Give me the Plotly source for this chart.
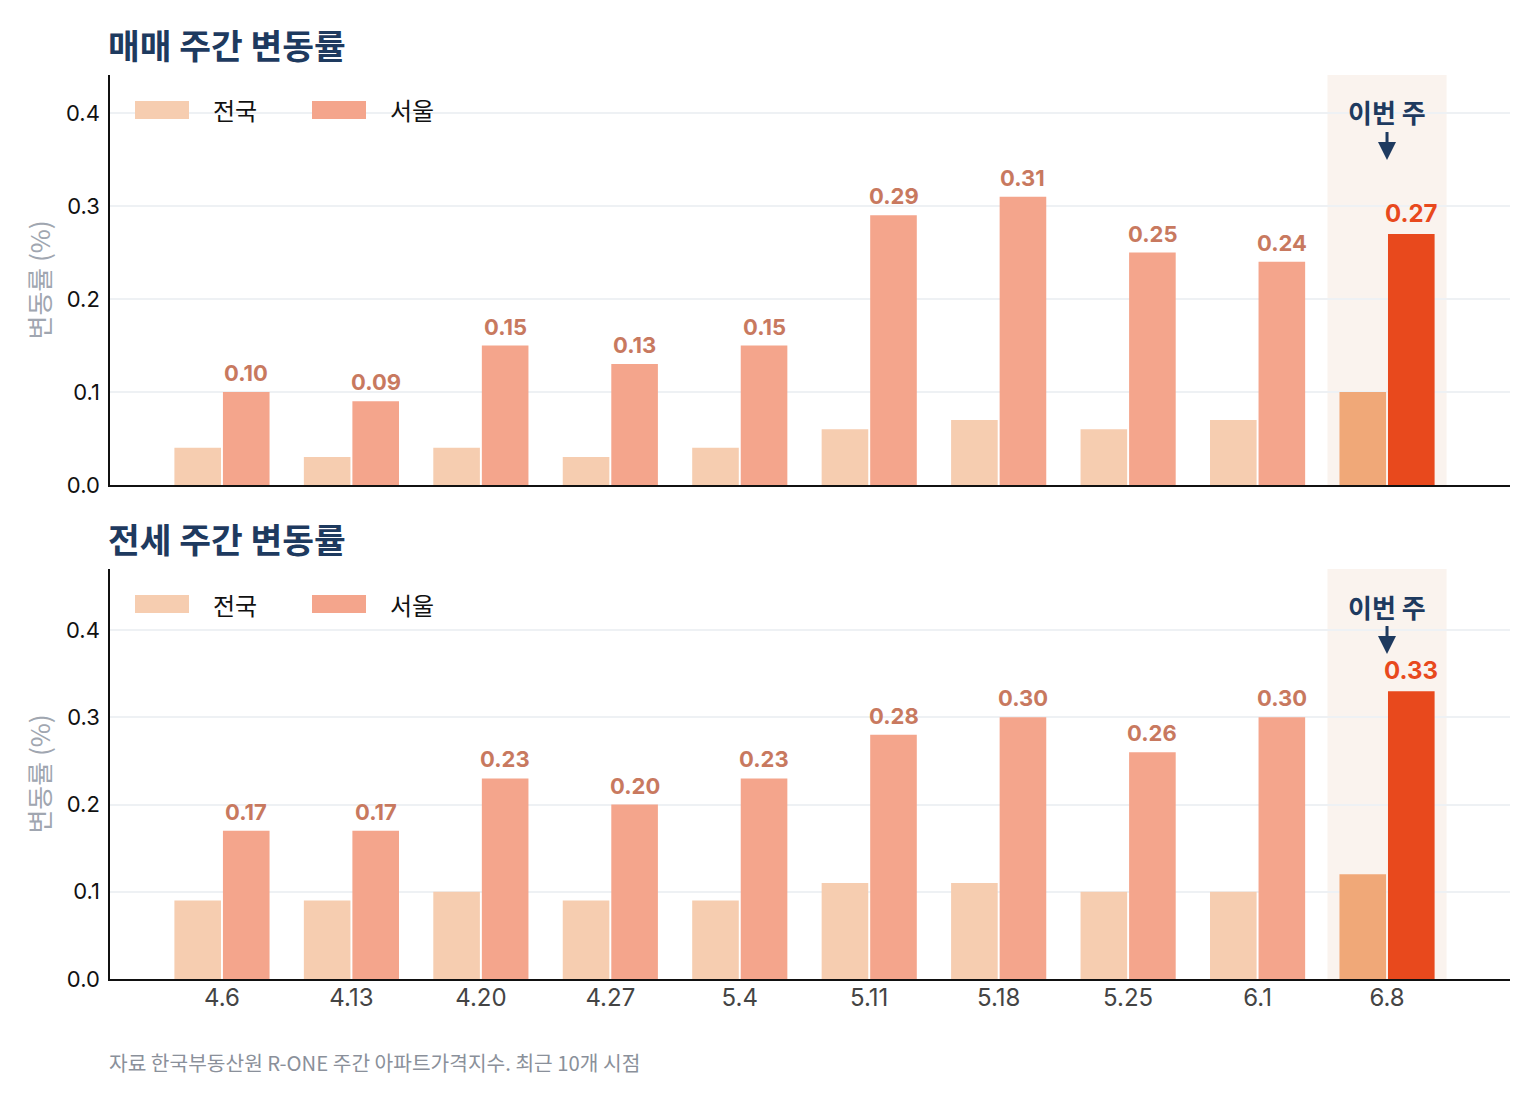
import plotly.graph_objects as go
from plotly.subplots import make_subplots

weeks = ["4.6", "4.13", "4.20", "4.27", "5.4", "5.11", "5.18", "5.25", "6.1", "6.8"]
sale_nation = [0.04, 0.03, 0.04, 0.03, 0.04, 0.06, 0.07, 0.06, 0.07, 0.10]
sale_seoul = [0.10, 0.09, 0.15, 0.13, 0.15, 0.29, 0.31, 0.25, 0.24, 0.27]
jeonse_nation = [0.09, 0.09, 0.10, 0.09, 0.09, 0.11, 0.11, 0.10, 0.10, 0.12]
jeonse_seoul = [0.17, 0.17, 0.23, 0.20, 0.23, 0.28, 0.30, 0.26, 0.30, 0.33]
panel_titles = ["매매 주간 변동률", "전세 주간 변동률"]
series_names = ["전국", "서울"]
y_ranges = [[0, 0.441], [0, 0.47]]
y_ticks = [0.0, 0.1, 0.2, 0.3, 0.4]

FONT = "Inter, 'Noto Sans CJK KR', sans-serif"
KFONT = "'Noto Sans CJK KR', Inter, sans-serif"
NAVY = "#1E3A5F"
C_NAT, C_SEO = "#F6CDB0", "#F4A58C"
C_NAT_H, C_SEO_H = "#F0A878", "#E8491D"
LBL, LBL_H = "#C8795F", "#E8491D"
BARGAP = 0.25

fig = make_subplots(rows=2, cols=1, vertical_spacing=0.093)
n = len(weeks)
for r, (nat, seo) in enumerate([(sale_nation, sale_seoul), (jeonse_nation, jeonse_seoul)], start=1):
    fig.add_trace(go.Bar(x=weeks, y=nat, name=series_names[0],
                         marker=dict(color=[C_NAT] * (n - 1) + [C_NAT_H], line=dict(width=0)),
                         showlegend=False, hoverinfo="skip"), row=r, col=1)
    fig.add_trace(go.Bar(x=weeks, y=seo, name=series_names[1],
                         marker=dict(color=[C_SEO] * (n - 1) + [C_SEO_H], line=dict(width=0)),
                         showlegend=False, hoverinfo="skip"), row=r, col=1)

    xs = "x" if r == 1 else "x2"
    ys = "y" if r == 1 else "y2"
    # value labels above Seoul bars
    off = (1 - BARGAP) / 4
    for i, v in enumerate(seo):
        last = i == n - 1
        fig.add_annotation(xref=xs, yref=ys, x=i + off, y=v, text=f"<b>{v:.2f}</b>",
                           showarrow=False, yanchor="bottom", yshift=4,
                           font=dict(family=FONT, size=24 if last else 22, color=LBL_H if last else LBL))
    # highlight band for latest week
    fig.add_shape(type="rect", xref=xs, yref=ys + " domain", x0=n - 1 - 0.46, x1=n - 1 + 0.46,
                  y0=0, y1=1, fillcolor="#FAF3EE", line_width=0, layer="below")
    # manual legend
    for i, (nm, col) in enumerate(zip(series_names, [C_NAT, C_SEO])):
        x0 = 25 + i * 177
        fig.add_shape(type="rect", xref=xs + " domain", yref=ys + " domain",
                      x0=x0 / 1400, x1=(x0 + 54) / 1400, y0=1 - 44 / 410, y1=1 - 26 / 410,
                      fillcolor=col, line_width=0)
        fig.add_annotation(xref=xs + " domain", yref=ys + " domain", x=(x0 + 76) / 1400, y=1 - 35 / 410,
                           text=nm, showarrow=False, xanchor="left", yanchor="middle",
                           font=dict(family=KFONT, size=24, color="#111"))
    # this-week annotation
    fig.add_annotation(xref=xs, yref=ys + " domain", x=n - 1, y=1 - 85 / 410,
                       text="<b>이번 주</b>", showarrow=True, arrowhead=2, arrowsize=1.2, arrowwidth=3,
                       arrowcolor=NAVY, ax=0, ay=-48, standoff=0,
                       font=dict(family=KFONT, size=26, color=NAVY))
    # panel title
    fig.add_annotation(xref="paper", yref=ys + " domain", x=0, y=1 + 31 / 410, xanchor="left",
                       yanchor="middle", xshift=-4, text="<b>" + panel_titles[r - 1] + "</b>",
                       showarrow=False, font=dict(family=KFONT, size=34.5, color=NAVY))
    fig.update_yaxes(row=r, col=1, range=y_ranges[r - 1], tickvals=y_ticks, tickformat=".1f",
                     showgrid=True, gridcolor="#EEF1F4", gridwidth=1.5, zeroline=False,
                     showline=True, linecolor="#111", linewidth=1.5, ticks="", ticklabelstandoff=4,
                     tickfont=dict(family=FONT, size=22, color="#111"),
                     title=dict(text="변동률 (%)", standoff=8,
                                font=dict(family=KFONT, size=26, color="#A0A6B0")))
    fig.update_xaxes(row=r, col=1, type="category", range=[-0.865, n - 1 + 0.95],
                     showline=True, linecolor="#111", linewidth=1.5, showgrid=False, ticks="",
                     showticklabels=(r == 2), ticklabelstandoff=-4,
                     tickfont=dict(family=FONT, size=24, color="#444"))

fig.add_annotation(xref="paper", yref="paper", x=0, y=-83 / 904, xanchor="left", yanchor="middle",
                   xshift=-3, text="자료 한국부동산원 R-ONE 주간 아파트가격지수. 최근 10개 시점", showarrow=False,
                   font=dict(family=KFONT, size=20.3, color="#8A909A"))

fig.update_layout(width=1540, height=1104, barmode="group", bargap=BARGAP, bargroupgap=0.04,
                  plot_bgcolor="white", paper_bgcolor="white",
                  margin=dict(l=102, r=38, t=67, b=133), showlegend=False,
                  font=dict(family=FONT))
fig.write_html("out.html")
